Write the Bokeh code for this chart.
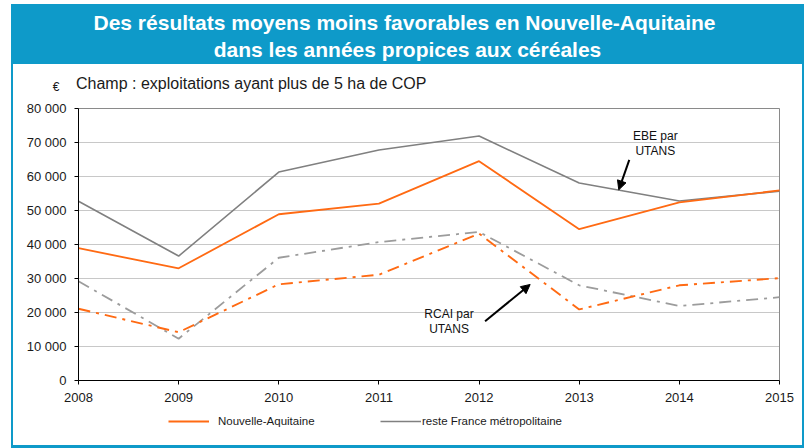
from bokeh.plotting import figure
from bokeh.models import (Label, Arrow, NormalHead, FixedTicker, Range1d, Legend, LegendItem)
from bokeh.embed import file_html
from bokeh.resources import INLINE

years = [2008, 2009, 2010, 2011, 2012, 2013, 2014, 2015]
ebe_na = [38900, 33000, 48900, 52000, 64500, 44500, 52400, 55900]
ebe_fr = [52700, 36600, 61300, 67800, 71900, 58100, 52800, 55700]
rcai_na = [21100, 14200, 28300, 31100, 43200, 20900, 28000, 30100]
rcai_fr = [29200, 12300, 36100, 40700, 43700, 28000, 21900, 24500]
y_ticks = [0, 10000, 20000, 30000, 40000, 50000, 60000, 70000, 80000]
y_tick_labels = ["0", "10 000", "20 000", "30 000", "40 000", "50 000", "60 000", "70 000", "80 000"]
series_names = ["Nouvelle-Aquitaine", "reste France métropolitaine"]
title_lines = ["Des résultats moyens moins favorables en Nouvelle-Aquitaine",
               "dans les années propices aux céréales"]
subtitle = "Champ : exploitations ayant plus de 5 ha de COP"
unit = "€"

ORANGE = "#FF6A13"
GRAY = "#808080"
BLUE = "#0E9AC9"
FONT = "Liberation Sans"
TXT = "#1a1a1a"

# page geometry (pixels)
W, H = 809, 448
PL, PR, PT, PB = 78, 779, 108, 380          # plot area edges
x0, x1 = years[0], years[-1]
y0, y1 = y_ticks[0], y_ticks[-1]
kx = (PR - PL) / (x1 - x0)
ky = (PB - PT) / (y1 - y0)

p = figure(width=W, height=H, output_backend="svg", toolbar_location=None,
           x_range=Range1d(x0 - PL / kx, x1 + (W - PR) / kx),
           y_range=Range1d(y0 - (H - PB) / ky, y1 + PT / ky),
           min_border=0, min_border_left=0, min_border_right=0,
           min_border_top=0, min_border_bottom=0)
g = f"linear-gradient({BLUE},{BLUE})"
p.styles = {"background": (f"{g} 11px 4px / 793px 60px no-repeat, "
                           f"{g} 11px 4px / 2px 444px no-repeat, "
                           f"{g} 802px 4px / 2px 444px no-repeat, "
                           f"{g} 11px 445px / 793px 3px no-repeat, white")}
p.border_fill_color = None
p.background_fill_color = None
p.outline_line_color = None
p.grid.visible = False

# axes placed at the data origin, limited to the plotted span
p.xaxis.fixed_location = y0
p.yaxis.fixed_location = x0
p.xaxis.bounds = (x0, x1)
p.yaxis.bounds = (y0, y1)
for ax in (p.xaxis[0], p.yaxis[0]):
    ax.axis_line_color = "black"
    ax.axis_line_width = 1
    ax.major_tick_line_color = "black"
    ax.major_tick_out = 4
    ax.major_tick_in = 0
    ax.minor_tick_line_color = None
    ax.major_label_text_font = FONT
    ax.major_label_text_font_size = "13px"
    ax.major_label_text_color = TXT
p.xaxis.ticker = FixedTicker(ticks=years)
p.xaxis.major_label_standoff = 8
p.yaxis.ticker = FixedTicker(ticks=y_ticks)
p.yaxis.major_label_overrides = {t: l for t, l in zip(y_ticks, y_tick_labels)}
p.yaxis.major_label_standoff = 8

# horizontal grid lines (one per y tick) and the plot-area outline
p.segment(x0=[x0] * len(y_ticks[1:]), x1=[x1] * len(y_ticks[1:]), y0=y_ticks[1:], y1=y_ticks[1:],
          line_color="#c8c8c8", line_width=1)
p.segment(x0=[x0, x1], x1=[x1, x1], y0=[y1, y0], y1=[y1, y1], line_color="#8a8a8a", line_width=1)

dash = "12 6 3 6"
r_fr = p.line(years, ebe_fr, line_color=GRAY, line_width=1.6)
r_na = p.line(years, ebe_na, line_color=ORANGE, line_width=1.8)
p.line(years, rcai_fr, line_color="#9c9c9c", line_width=1.8, line_dash=dash)
p.line(years, rcai_na, line_color=ORANGE, line_width=1.9, line_dash=dash)

for txt, (x, y) in zip(["EBE par", "UTANS"], [(2013.76, 72000), (2013.76, 67400)]):
    p.add_layout(Label(x=x, y=y, text=txt, text_font=FONT, text_font_size="12px",
                       text_align="center", text_baseline="middle", text_color="#111111"))
for txt, (x, y) in zip(["RCAI par", "UTANS"], [(2011.70, 19600), (2011.70, 15200)]):
    p.add_layout(Label(x=x, y=y, text=txt, text_font=FONT, text_font_size="12px",
                       text_align="center", text_baseline="middle", text_color="#111111"))
p.add_layout(Arrow(x_start=2013.50, y_start=64900, x_end=2013.395, y_end=56080,
                   line_width=2, line_color="black",
                   end=NormalHead(size=9, fill_color="black", line_color="black")))
p.add_layout(Arrow(x_start=2012.06, y_start=17450, x_end=2012.51, y_end=28240,
                   line_width=2, line_color="black",
                   end=NormalHead(size=9, fill_color="black", line_color="black")))

# title, unit and subtitle (screen units, y measured up from the bottom)
for txt, (x, y) in zip(title_lines, [(404, H - 22), (407, H - 48.5)]):
    p.add_layout(Label(x=x, y=y, x_units="screen", y_units="screen", text=txt,
                       text_font=FONT, text_font_size="21px", text_font_style="bold",
                       text_color="white", text_align="center", text_baseline="middle"))
p.add_layout(Label(x=55.5, y=H - 86, x_units="screen", y_units="screen", text=unit,
                   text_font=FONT, text_font_size="12px", text_color=TXT,
                   text_align="center", text_baseline="middle"))
p.add_layout(Label(x=75.5, y=H - 83, x_units="screen", y_units="screen", text=subtitle,
                   text_font=FONT, text_font_size="16px", text_color=TXT,
                   text_align="left", text_baseline="middle"))

legend_opts = dict(orientation="horizontal", glyph_width=41, glyph_height=20,
                   label_text_font=FONT, label_text_font_size="11.5px",
                   label_text_color=TXT, background_fill_alpha=0,
                   border_line_color=None, padding=0, margin=0)
p.add_layout(Legend(items=[LegendItem(label=series_names[0], renderers=[r_na])],
                    location=(168, H - 431), label_standoff=9, **legend_opts), "center")
p.add_layout(Legend(items=[LegendItem(label=series_names[1], renderers=[r_fr])],
                    location=(380, H - 431), label_standoff=1, **legend_opts), "center")

open("out.html", "w").write(file_html(p, INLINE))
